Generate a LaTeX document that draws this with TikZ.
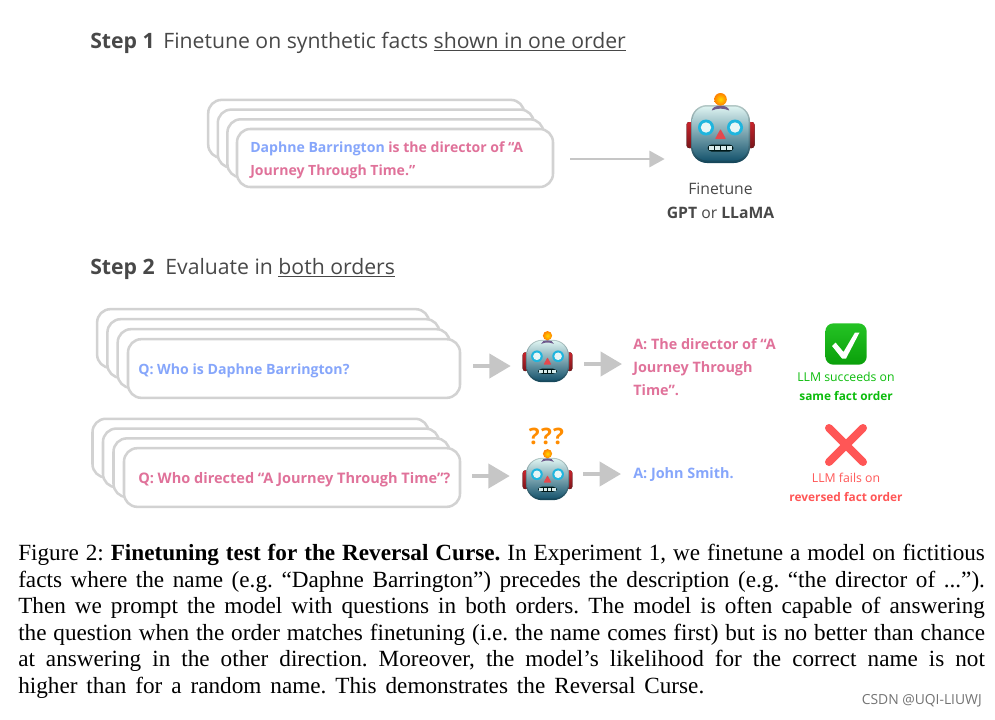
\documentclass[tikz,border=0pt]{standalone}
\usepackage{fontspec}
\setmainfont{Liberation Serif}
\newfontfamily\uifont{Open Sans}
\usetikzlibrary{arrows.meta,positioning}
\definecolor{cardgray}{HTML}{D2D2D2}
\definecolor{arrowgray}{HTML}{C6C6C6}
\definecolor{namecol}{HTML}{86A6FB}
\definecolor{desccol}{HTML}{E0729A}
\definecolor{headcol}{HTML}{484848}
\definecolor{okcol}{HTML}{0CBC0C}
\definecolor{badcol}{HTML}{FF5656}
\definecolor{facetop}{HTML}{DCF2F0}
\definecolor{facemid}{HTML}{8CC4C8}
\definecolor{facelow}{HTML}{17556E}
\definecolor{faceedge}{HTML}{B4C8C6}
\definecolor{eyecol}{HTML}{1FB5DE}
\definecolor{eyeinner}{HTML}{E8F6F6}
\definecolor{earcol}{HTML}{C8242C}
\definecolor{nosecol}{HTML}{E5484D}
\definecolor{basecol}{HTML}{6E5A8C}
\tikzset{
  robot/.pic={
    \foreach \s in {-1,1} {
      \fill[top color=earcol,bottom color=earcol!60!black,rounded corners=2] ({\s*27},-12) rectangle ({\s*34},14);
    }
    \path[rounded corners=12,top color=faceedge,bottom color=facelow!80!black] (-29.5,-29) rectangle (29.5,29);
    \path[rounded corners=11,top color=facetop,middle color=facemid,bottom color=facelow] (-28,-27.5) rectangle (28,26.5);
    \fill[basecol] (-8.7,-23.5) .. controls (-8,-30) and (8,-30) .. (8.7,-23.5) .. controls (3,-26) and (-3,-26) .. cycle;
    \shade[inner color=yellow!70!orange,outer color=orange] (0,-34.7) circle (6.3);
    \foreach \s in {-1,1} {
      \fill[eyecol] ({\s*14.5},-6.5) circle (8);
      \fill[eyeinner] ({\s*14.5},-6.5) circle (5.2);
    }
    \fill[nosecol,rounded corners=0.5] (0,-5) -- (5.5,5) -- (-5.5,5) -- cycle;
    \fill[black!80!teal,rounded corners=3] (-13,10.5) rectangle (13,17.5);
    \foreach \s in {-9,-3,3,9} {
      \fill[white!85!teal] ({\s-2.2},12) rectangle ({\s+2.2},16);
    }
  }
}
\begin{document}
\begin{tikzpicture}[x=0.75pt,y=-0.75pt,
  card/.style={draw=cardgray,line width=1.9pt,rounded corners=10pt,fill=white,outer sep=0pt,inner sep=0pt},
  qtext/.style={font=\uifont\bfseries\fontsize{10.6}{17.2}\selectfont,align=left,anchor=west,inner sep=0pt},
  thinarrow/.style={draw=arrowgray,line width=2.2pt,-{Triangle[length=11.5pt,width=12pt]}},
  fatarrow/.style={draw=arrowgray,line width=3pt,-{Triangle[length=16pt,width=18pt]}},
  heading/.style={font=\uifont\fontsize{15.9}{20}\selectfont,text=headcol,anchor=west,inner sep=0pt},
  robotspot/.style={minimum width=39pt,minimum height=32pt,inner sep=0pt},
  verdict/.style={font=\uifont\fontsize{9.2}{14.2}\selectfont,align=center,inner sep=0pt}]
  \useasboundingbox (0,0) rectangle (995,719);

  \node[heading] (steponehead) at (90,43) {{\bfseries Step 1}\hspace{6.5pt}Finetune on synthetic facts \underline{shown in one order}};
  \node[heading] (steptwohead) at (90,269) {{\bfseries Step 2}\hspace{8pt}Evaluate in \underline{both orders}};

  % step 1 cards
  \foreach \i in {3,2,1} {
    \node[card,minimum width=237pt,minimum height=43.5pt] (fact\i) at ({395-9.6*\i},{158-9.7*\i}) {};
  }
  \node[card,minimum width=237pt,minimum height=43.5pt] (fact) at (395,158) {};
  \node[qtext,font=\uifont\bfseries\fontsize{10.55}{17.2}\selectfont] (facttext) at (250,160) {\textcolor{namecol}{Daphne Barrington} \textcolor{desccol}{is the director of “A}\\\textcolor{desccol}{Journey Through Time.”}};
  \node[robotspot,minimum width=54pt,minimum height=44pt] (rbig) at (720.5,134) {};
  \pic at (rbig) {robot};
  \node[font=\uifont\fontsize{11.8}{18}\selectfont,text=headcol,align=center,anchor=north,inner sep=0pt] (rbiglabel) at (720.5,183) {Finetune\\{\bfseries GPT} or {\bfseries LLaMA}};
  \draw[thinarrow] ([shift={(17,1)}]fact.east) -- ([shift={(-19.5,25)}]rbig.west);

  % step 2, first row
  \foreach \i in {3,2,1} {
    \node[card,minimum width=249pt,minimum height=44pt] (qa\i) at ({294-10.3*\i},{368.5-10*\i}) {};
  }
  \node[card,minimum width=249pt,minimum height=44pt] (qa) at (294,368.5) {};
  \node[qtext,text=namecol] (qatext) at (138,370.5) {Q: Who is Daphne Barrington?};
  \node[robotspot] (rba) at (547.5,361) {};
  \pic[scale=0.73] at (rba) {robot};
  \node[qtext,text=desccol,font=\uifont\bfseries\fontsize{10.8}{17.2}\selectfont] (ansa) at (633,367) {A: The director of “A\\Journey Through\\Time”.};
  \draw[fatarrow] ([shift={(13,-2.5)}]qa.east) -- ([shift={(-10.5,5)}]rba.west);
  \draw[fatarrow] ([shift={(10.5,3)}]rba.east) -- ([shift={(-11,-3)}]ansa.west);
  \node[top color=okcol!90!white,bottom color=okcol!85!black,rounded corners=6pt,minimum size=31pt,inner sep=0pt] (okbox) at (846,344) {};
  \fill[white] (832,346) -- (835.5,342.5) -- (843.5,352) -- (855,332.5) -- (859.5,332.5) -- (846,358.5) -- (842,358.5) -- cycle;
  \node[verdict,text=okcol] (oklabel) at (846,386.5) {LLM succeeds on\\{\fontsize{8.9}{14.2}\selectfont\bfseries same fact order}};

  % step 2, second row
  \foreach \i in {3,2,1} {
    \node[card,minimum width=252pt,minimum height=44pt] (qb\i) at ({292-10.5*\i},{477.5-9.8*\i}) {};
  }
  \node[card,minimum width=252pt,minimum height=44pt] (qb) at (292,477.5) {};
  \node[qtext,text=desccol,font=\uifont\bfseries\fontsize{10.9}{17.2}\selectfont] (qbtext) at (138,480) {Q: Who directed “A Journey Through Time”?};
  \node[robotspot] (rbb) at (547.5,479) {};
  \pic[scale=0.73] at (rbb) {robot};
  \node[font=\uifont\bfseries\fontsize{17}{17}\selectfont,text=orange!90!yellow,inner sep=0pt] (huh) at (546.5,436) {?\hspace{1pt}?\hspace{1pt}?};
  \node[qtext,text=namecol,font=\uifont\bfseries\fontsize{10.8}{17.2}\selectfont] (ansb) at (633,474.5) {A: John Smith.};
  \draw[fatarrow] ([shift={(12,-1.5)}]qb.east) -- ([shift={(-11.5,-3)}]rbb.west);
  \draw[fatarrow] ([shift={(9.5,-5)}]rbb.east) -- ([shift={(-12,-0.5)}]ansb.west);
  \node[minimum size=30pt,inner sep=0pt] (nobox) at (846,445) {};
  \draw[badcol,line width=6pt,line cap=round] ([shift={(-17,-17)}]nobox.center) -- ([shift={(17,17)}]nobox.center);
  \draw[badcol,line width=6pt,line cap=round] ([shift={(17,-17)}]nobox.center) -- ([shift={(-17,17)}]nobox.center);
  \node[verdict,text=badcol] (nolabel) at (846,487) {LLM fails on\\{\fontsize{8.9}{14.2}\selectfont\bfseries reversed fact order}};

  \node[anchor=north west,inner sep=0pt,text width=725pt,align=justify,font=\frenchspacing\fontsize{17.4}{19.9}\selectfont] (caption) at (18,544) {Figure 2: \textbf{Finetuning test for the Reversal Curse.} In Experiment 1, we finetune a model on fictitious\linebreak facts where the name (e.g. “Daphne Barrington”) precedes the description (e.g. “the director of ...”).\linebreak Then we prompt the model with questions in both orders. The model is often capable of answering\linebreak the question when the order matches finetuning (i.e. the name comes first) but is no better than chance\linebreak at answering in the other direction. Moreover, the model’s likelihood for the correct name is not\linebreak\hbox to 514.5pt{higher than for a random name. This demonstrates the Reversal Curse.}};
  \node[anchor=east,inner sep=0pt,font=\uifont\fontsize{10.4}{12}\selectfont,text=black!55] (mark) at (982,701) {CSDN @UQI-LIUWJ};
\end{tikzpicture}
\end{document}
